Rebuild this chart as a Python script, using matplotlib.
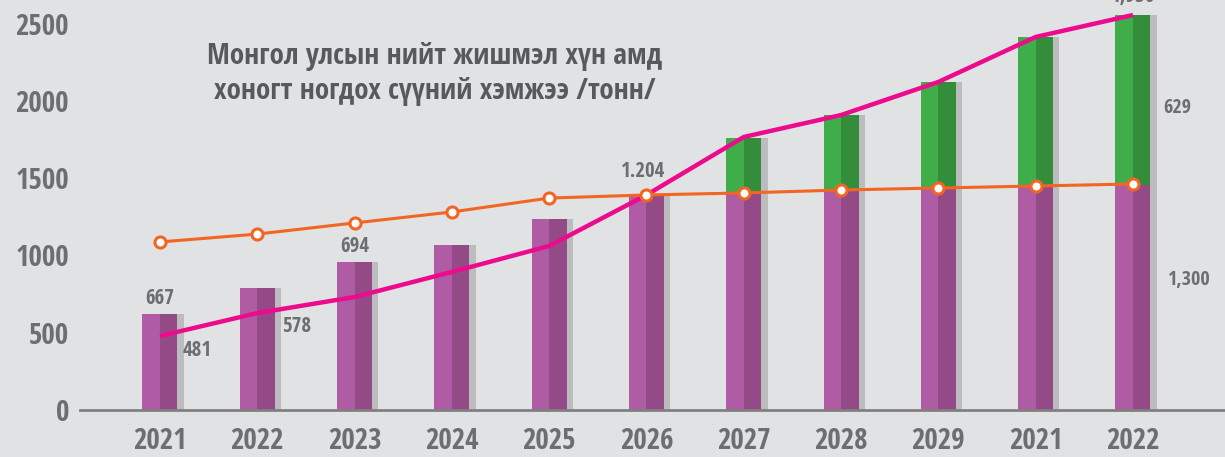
import matplotlib
matplotlib.use('Agg')
import matplotlib.pyplot as plt
import numpy as np

years = ['2021', '2022', '2023', '2024', '2025', '2026', '2027', '2028', '2029', '2021', '2022']
purple = [621, 789, 957, 1067, 1235, 1391, 1404, 1417, 1430, 1449, 1455]
green = [0, 0, 0, 0, 0, 0, 355, 491, 692, 964, 1100]
orange = [1087, 1138, 1210, 1281, 1371, 1391, 1404, 1423, 1436, 1449, 1462]
pink = [479, 627, 731, 893, 1061, 1391, 1766, 1908, 2122, 2413, 2555]
yticks = [0, 500, 1000, 1500, 2000, 2500]
title = 'Монгол улсын нийт жишмэл хүн амд\nхоногт ногдох сүүний хэмжээ /тонн/'

FONT = ['Open Sans Condensed', 'Fira Sans Condensed', 'PT Sans Narrow',
        'Roboto Condensed', 'DejaVu Sans']
TXT = '#6d6e70'
BG = '#e1e2e4'

plt.rcParams['font.family'] = FONT
plt.rcParams['font.weight'] = 'bold'

fig = plt.figure(figsize=(12.25, 4.57), dpi=100, facecolor=BG)
ax = fig.add_axes([0.0653, 0.1028, 0.9347, 0.8972])
ax.set_facecolor(BG)

x = np.arange(len(years))
total = np.array(purple) + np.array(green)
hw = 0.18

# shadow, then two-tone halves
ax.bar(x + hw + 0.03, total, width=0.07, color='#bcbcbe', zorder=1)
ax.bar(x - hw / 2, purple, width=hw, color='#b05ca5', zorder=2)
ax.bar(x + hw / 2, purple, width=hw, color='#944a86', zorder=2)
ax.bar(x - hw / 2, green, bottom=purple, width=hw, color='#3fae4a', zorder=2)
ax.bar(x + hw / 2, green, bottom=purple, width=hw, color='#338d3b', zorder=2)

ax.plot(x, pink, color='#ec0b8c', lw=3.2, zorder=3, solid_capstyle='butt')
ax.plot(x, orange, color='#f26522', lw=2.2, marker='o', ms=8,
        mfc='white', mec='#f26522', mew=2.2, zorder=4)

def lab(s, xv, yv, dx, dy, size=15):
    ax.annotate(s, (xv, yv), xytext=(dx * 0.72, dy * 0.72), textcoords='offset points',
                ha='center', va='center', fontsize=size, color=TXT,
                fontweight='bold', annotation_clip=False)

lab('667', 0, purple[0], 0, 16)
lab('481', 0, pink[0], 37, -15)
lab('578', 1, pink[1], 39, -13)
lab('694', 2, purple[2], 0, 16)
lab('1.204', 5, orange[5], -3, 23)
lab('1,930', 10, total[10], 0, 18)
lab('629', 10, purple[10] + green[10] / 2, 44, -8, 14.5)
lab('1,300', 10, purple[10] / 2, 55, 18, 14.5)

ax.text(435 / 1225, 1 - 74 / 457, title, transform=fig.transFigure, ha='center', va='center',
        fontsize=21, color='#58595b', fontweight='bold', linespacing=1.25)

ax.set_xlim(-0.822, 10.946)
ax.set_ylim(0, 2652)
ax.set_xticks(x)
ax.set_xticklabels(years, fontsize=21, color=TXT, fontweight='bold')
ax.set_yticks(yticks)
ax.set_yticklabels([str(v) for v in yticks], fontsize=21, color=TXT, fontweight='bold')
ax.tick_params(length=0)
ax.tick_params(axis='x', pad=12)
ax.tick_params(axis='y', pad=8)
for s in ['top', 'right', 'left']:
    ax.spines[s].set_visible(False)
ax.spines['bottom'].set_color('#808080')
ax.spines['bottom'].set_linewidth(2)
ax.spines['bottom'].set_zorder(5)

fig.savefig('out.png', dpi=100, facecolor=BG)
